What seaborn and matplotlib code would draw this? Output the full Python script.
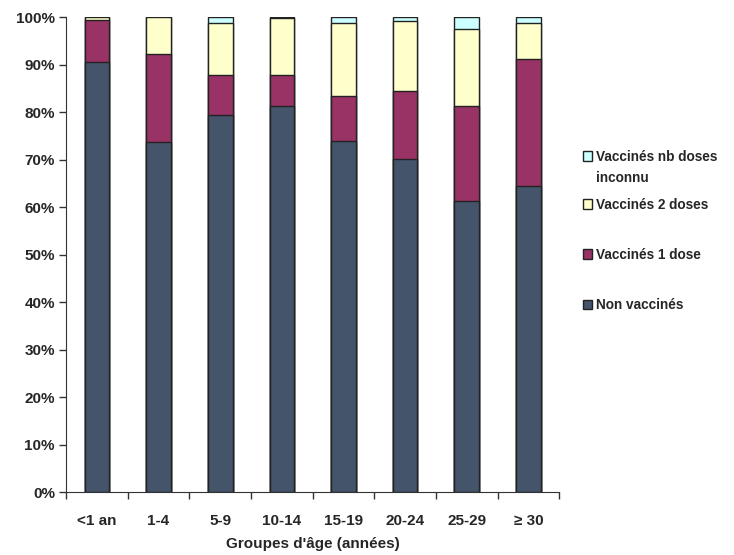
import numpy as np
import pandas as pd
import matplotlib
matplotlib.use('Agg')
import matplotlib.pyplot as plt
import seaborn as sns
from matplotlib.patches import Patch
from matplotlib.ticker import FixedLocator, PercentFormatter

groupes = ['<1 an', '1-4', '5-9', '10-14', '15-19', '20-24', '25-29', '≥ 30']
non_vaccines = [90.6, 73.7, 79.4, 81.3, 73.9, 70.2, 61.3, 64.4]
vaccines_1 = [8.8, 18.5, 8.5, 6.6, 9.5, 14.3, 20.0, 26.9]
vaccines_2 = [0.6, 7.8, 10.9, 11.9, 15.3, 14.8, 16.3, 7.4]
vaccines_inc = [0.0, 0.0, 1.2, 0.2, 1.3, 0.7, 2.4, 1.3]

labels = ['Non vaccinés', 'Vaccinés 1 dose', 'Vaccinés 2 doses', 'Vaccinés nb doses']
label_suite = 'inconnu'
colors = ['#44546a', '#993366', '#ffffcc', '#ccffff']

sns.set_style('white')
plt.rcParams['font.family'] = ['Liberation Sans', 'DejaVu Sans']
plt.rcParams['font.weight'] = 'bold'

df = pd.DataFrame({'groupe': groupes, 'nv': non_vaccines, 'v1': vaccines_1,
                   'v2': vaccines_2, 'vi': vaccines_inc})
cum = df[['nv', 'v1', 'v2', 'vi']].cumsum(axis=1)

fig = plt.figure(figsize=(7.34, 5.55), dpi=100)
ax = fig.add_axes([0.09, 0.1135, 0.672, 0.8555])

# stacked bars: draw cumulative totals from top to bottom
for col, c in zip(['vi', 'v2', 'v1', 'nv'], colors[::-1]):
    sns.barplot(x=df['groupe'], y=cum[col], color=c, width=0.4, edgecolor='#222222',
                linewidth=1.0, ax=ax, saturation=1)

ax.set_ylim(0, 100)
ax.set_xlim(-0.5, len(groupes) - 0.5)
ax.yaxis.set_major_locator(FixedLocator(np.arange(0, 101, 10)))
ax.yaxis.set_major_formatter(PercentFormatter(decimals=0))
ax.set_ylabel('')
ax.set_xlabel("Groupes d'âge (années)", fontsize=11, fontweight='bold', labelpad=6)
ax.xaxis.set_minor_locator(FixedLocator(np.arange(-0.5, len(groupes), 1)))
ax.tick_params(axis='x', which='major', length=0, pad=16, labelsize=11)
ax.tick_params(axis='x', which='minor', length=5, width=1, color='#333333', direction='out', bottom=True)
ax.tick_params(axis='y', length=5, width=1, color='#333333', direction='out', left=True, labelsize=11, pad=3)
for lab in ax.get_xticklabels() + ax.get_yticklabels():
    lab.set_fontweight('bold')

sns.despine(ax=ax, top=True, right=True)
ax.spines['left'].set_color('#333333')
ax.spines['bottom'].set_color('#333333')

handles = [Patch(facecolor=c, edgecolor='#222222', linewidth=1.0) for c in colors]
leg_kw = dict(frameon=False, handlelength=0.7, handleheight=0.7, handletextpad=0.3,
              prop={'weight': 'bold', 'size': 9.8})
# top entry (two lines) separately, the other three evenly spaced
leg1 = fig.legend([handles[3]], [labels[3]], loc='center left',
                  bbox_to_anchor=(0.777, 1 - 157 / 555), **leg_kw)
leg2 = fig.legend(handles[2::-1], labels[2::-1], loc='center left',
                  bbox_to_anchor=(0.777, 1 - 255 / 555), labelspacing=2.65, **leg_kw)

fig.canvas.draw()
bb = leg1.get_texts()[0].get_window_extent()
fig.text(bb.x0 / fig.bbox.width, 1 - 178 / 555, label_suite, ha='left', va='center',
         fontsize=9.8, fontweight='bold')

fig.savefig('out.png', dpi=100)
